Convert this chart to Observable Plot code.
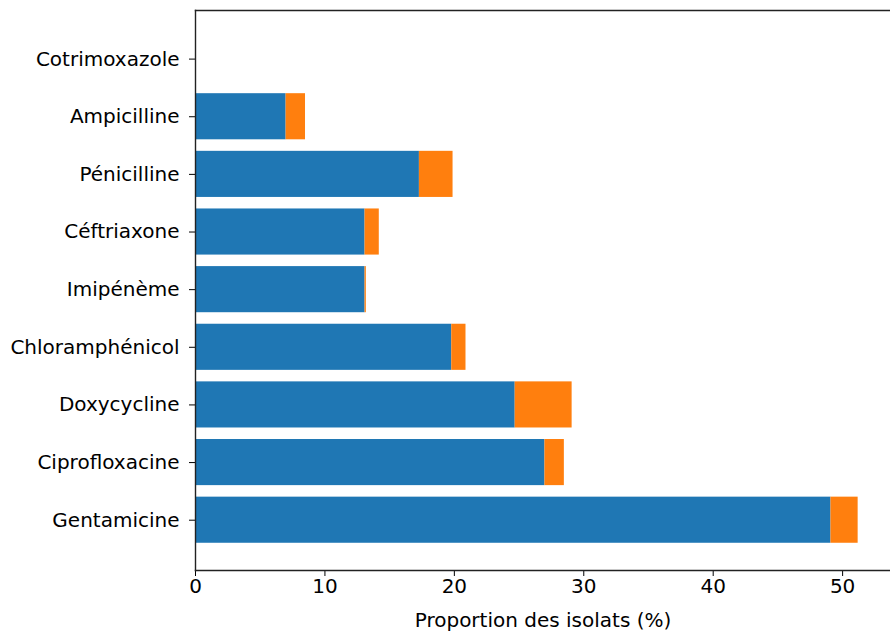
<!DOCTYPE html>
<html>
<head>
<meta charset="utf-8">
<script src="https://cdn.jsdelivr.net/npm/d3@7"></script>
<script src="https://cdn.jsdelivr.net/npm/@observablehq/plot@0.6"></script>
<style>
  html, body { margin: 0; padding: 0; background: #fff; }
  svg { display: block; }
</style>
</head>
<body>
<div id="chart"></div>
<script>
const categories = ["Cotrimoxazole", "Ampicilline", "Pénicilline", "Céftriaxone", "Imipénème",
  "Chloramphénicol", "Doxycycline", "Ciprofloxacine", "Gentamicine"];
const seriesNames = ["Résistant", "Intermédiaire"];
const valuesBlue = [0, 7.0, 17.3, 13.1, 13.1, 19.8, 24.7, 27.0, 49.1];
const valuesOrange = [0, 1.5, 2.6, 1.1, 0.1, 1.1, 4.4, 1.5, 2.1];
const xTicks = [0, 10, 20, 30, 40, 50];
const colors = ["#1f77b4", "#ff7f0e"];

const data = [];
categories.forEach((c, i) => {
  data.push({category: c, series: seriesNames[0], value: valuesBlue[i]});
  data.push({category: c, series: seriesNames[1], value: valuesOrange[i]});
});

const chart = Plot.plot({
  width: 890,
  height: 633,
  marginLeft: 195,
  marginRight: 0,
  marginTop: 10,
  marginBottom: 63,
  style: {fontFamily: "DejaVu Sans", fontSize: "20px", color: "#000", background: "#fff"},
  x: {domain: [0, 53.7]},
  y: {domain: categories, paddingInner: 0.2, paddingOuter: 0.458, align: 0.484, round: false},
  color: {domain: seriesNames, range: colors},
  marks: [
    Plot.barX(data, Plot.stackX({x: "value", y: "category", fill: "series", order: null})),
    Plot.axisX({ticks: xTicks, tickSize: 6, tickPadding: 2, fontSize: 20,
      label: "Proportion des isolats (%)", labelAnchor: "center", labelArrow: "none", labelOffset: 56}),
    Plot.axisY({tickSize: 6, tickPadding: 10, fontSize: 20, label: null}),
    Plot.frame({anchor: "top", stroke: "#222", strokeWidth: 1.4}),
    Plot.frame({anchor: "bottom", stroke: "#222", strokeWidth: 1.4}),
    Plot.frame({anchor: "left", stroke: "#222", strokeWidth: 1.4})
  ]
});
document.getElementById("chart").appendChild(chart);
</script>
</body>
</html>
